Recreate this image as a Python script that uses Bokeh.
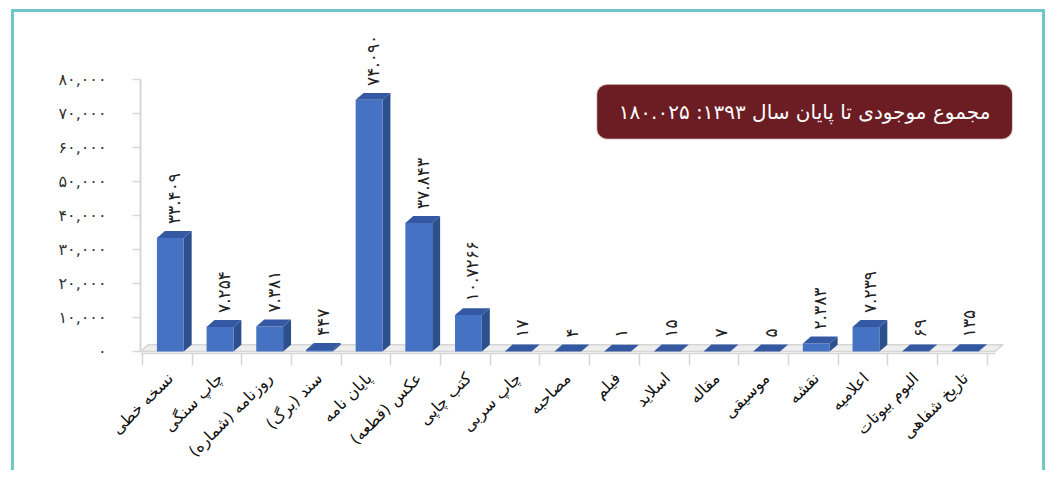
import numpy as np
from bokeh.plotting import figure
from bokeh.models import FixedTicker, Range1d, BoxAnnotation, Label
from bokeh.core.properties import value
from bokeh.embed import file_html
from bokeh.resources import INLINE

# ---------------- data ----------------
categories = ["نسخه خطی", "چاپ سنگی", "روزنامه (شماره)", "سند (برگ)", "پایان نامه",
              "عکس (قطعه)", "کتب چاپی", "چاپ سربی", "مصاحبه", "فیلم", "اسلاید",
              "مقاله", "موسیقی", "نقشه", "اعلامیه", "البوم بیوتات", "تاریخ شفاهی"]
values = [33409, 7254, 7381, 447, 74090, 37843, 10726, 17, 4, 1, 15, 7, 5,
          2383, 7239, 69, 135]
value_labels = ["۳۳.۴۰۹", "۷.۲۵۴", "۷.۳۸۱", "۴۴۷", "۷۴.۰۹۰", "۳۷.۸۴۳", "۱۰.۷۲۶۶",
                "۱۷", "۴", "۱", "۱۵", "۷", "۵", "۲.۳۸۳", "۷.۲۳۹", "۶۹", "۱۳۵"]
y_ticks = [0, 10000, 20000, 30000, 40000, 50000, 60000, 70000, 80000]
y_tick_labels = ["۰", "۱۰,۰۰۰", "۲۰,۰۰۰", "۳۰,۰۰۰", "۴۰,۰۰۰", "۵۰,۰۰۰",
                 "۶۰,۰۰۰", "۷۰,۰۰۰", "۸۰,۰۰۰"]
title_text = "مجموع موجودی تا پایان سال ۱۳۹۳: ۱۸۰.۰۲۵"

# ---------------- style ----------------
FONT = "DejaVu Sans"
FRONT = "#4672c4"
SIDE = "#2c4f8e"
TOP = "#3459a2"
GRAY = "#d6d6d6"
TEAL = "#6fc5c7"

W, H = 1045, 470
p = figure(width=W, height=H, output_backend="svg", toolbar_location=None,
           x_range=Range1d(-0.6, 17.07), y_range=Range1d(-580, 95072),
           min_border_left=140, min_border_right=27, min_border_top=28,
           min_border_bottom=112)
p.outline_line_color = None
p.grid.visible = False
p.background_fill_color = None
p.border_fill_color = None

# outer teal frame (left, top and right edges) drawn behind the transparent canvas
grad = f"linear-gradient({TEAL},{TEAL})"
p.styles = {
    "background-color": "white",
    "background-image": f"{grad}, {grad}, {grad}",
    "background-size": "3px 480px, 1034px 3px, 3px 480px",
    "background-position": "11px 9px, 11px 9px, 1042px 9px",
    "background-repeat": "no-repeat",
}

x = np.arange(len(values), dtype=float)
v = np.array(values, dtype=float)
bw = 0.54     # bar width (category units)
dx = 0.16     # 3D depth in x
dy = 2030     # 3D depth in y (data units)

# floor
fl, fr = -0.6, 16.6
p.patch([fl, fr, fr + dx, fl + dx], [0, 0, dy, dy], fill_color="#eeeeee",
        line_color=GRAY, line_width=1.5)

# side faces
side_xs = [[xi + bw / 2, xi + bw / 2 + dx, xi + bw / 2 + dx, xi + bw / 2] for xi in x]
side_ys = [[0, dy, vi + dy, vi] for vi in v]
p.patches(side_xs, side_ys, fill_color=SIDE, line_color=None)

# front faces
p.vbar(x=x, top=v, bottom=0, width=bw, fill_color=FRONT, line_color=None)

# top faces
top_xs = [[xi - bw / 2, xi + bw / 2, xi + bw / 2 + dx, xi - bw / 2 + dx] for xi in x]
top_ys = [[vi, vi, vi + dy, vi + dy] for vi in v]
p.patches(top_xs, top_ys, fill_color=TOP, line_color=None)

# value labels
p.text(x=x + 0.08, y=v + dy, text=value_labels, angle=np.pi / 2,
       text_align="left", text_baseline="middle", y_offset=-7,
       text_font=value(FONT), text_font_size="17px", text_color="#222222")

# y axis (wall)
ya = p.yaxis[0]
ya.ticker = FixedTicker(ticks=y_ticks)
ya.major_label_overrides = {t: l for t, l in zip(y_ticks, y_tick_labels)}
ya.bounds = (0, 80000)
ya.axis_line_color = GRAY
ya.axis_line_width = 2
ya.major_tick_line_color = GRAY
ya.major_tick_line_width = 1.5
ya.major_tick_out = 8
ya.major_tick_in = 0
ya.minor_tick_line_color = None
ya.major_label_standoff = 26
ya.major_label_text_font = FONT
ya.major_label_text_font_size = "16px"
ya.major_label_text_color = "#333333"

# x axis (floor front edge)
xa = p.xaxis[0]
xa.ticker = FixedTicker(ticks=list(range(len(categories))),
                        minor_ticks=list(np.arange(len(categories) + 1) - 0.56))
xa.major_label_overrides = {i: "\u200f" + c + "\u200f" for i, c in enumerate(categories)}
xa.bounds = (fl, fr)
xa.axis_line_color = GRAY
xa.axis_line_width = 1.5
xa.major_tick_line_color = None
xa.major_tick_out = 0
xa.major_tick_in = 0
xa.minor_tick_line_color = GRAY
xa.minor_tick_line_width = 1.5
xa.minor_tick_out = 12
xa.minor_tick_in = 0
xa.major_label_orientation = np.pi / 4
xa.major_label_standoff = 10
xa.major_label_text_font = FONT
xa.major_label_text_font_size = "16px"
xa.major_label_text_color = "#111111"

# title box
bl, br = 8.59, 16.94
bt, bb = 78551, 62609
p.add_layout(BoxAnnotation(left=bl, right=br, top=bt, bottom=bb,
                           fill_color="#6b1d23", fill_alpha=1.0,
                           line_color="#8a4a4f", line_width=1.5,
                           border_radius=10, level="annotation"))
p.add_layout(Label(x=(bl + br) / 2, y=(bt + bb) / 2, text=title_text,
                   text_align="center", text_baseline="middle",
                   text_color="white", text_font=FONT, text_font_size="20px",
                   level="overlay"))

open("out.html", "w").write(file_html(p, INLINE))
